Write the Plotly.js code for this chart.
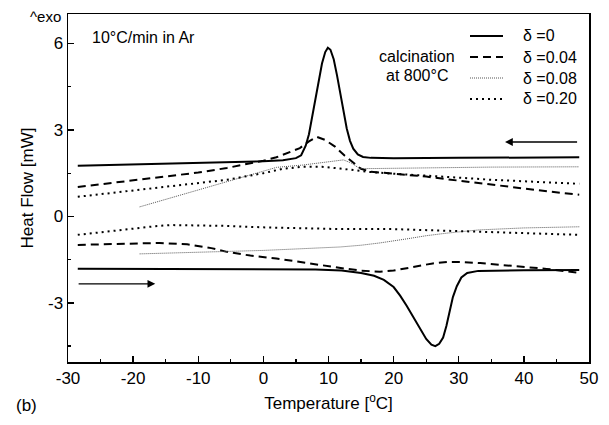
<!DOCTYPE html>
<html>
<head>
<meta charset="utf-8">
<script src="https://cdn.plot.ly/plotly-3.0.1.min.js"></script>
<style>html,body{margin:0;padding:0;background:#fff;}#chart{width:609px;height:425px;}</style>
</head>
<body>
<div id="chart"></div>
<script>
// ---- data ----
const s0CoolX = [-28.5,-20,-10,0,3,5,5.8,6.5,7,7.5,8,8.5,9,9.5,9.9,10.3,10.8,11.3,11.8,12.3,12.8,13.3,13.8,14.5,15.3,16.5,20,30,40,48.5];
const s0CoolY = [1.76,1.80,1.85,1.91,1.95,2.02,2.12,2.45,2.85,3.45,4.1,4.75,5.3,5.7,5.85,5.78,5.45,4.9,4.25,3.6,3.05,2.62,2.35,2.15,2.06,2.03,2.02,2.03,2.04,2.05];
const s0HeatX = [-28.5,-10,0,8,12,15,17,18.5,20,21,22,23,24,25,25.8,26.4,27,27.6,28.1,28.6,29.1,29.7,30.4,31.3,33,40,48.5];
const s0HeatY = [-1.82,-1.82,-1.82,-1.84,-1.88,-1.96,-2.06,-2.2,-2.45,-2.75,-3.1,-3.48,-3.88,-4.25,-4.45,-4.5,-4.42,-4.2,-3.8,-3.25,-2.8,-2.42,-2.12,-1.96,-1.89,-1.87,-1.86];
const s04CoolX = [-28.5,-20,-15.9,-10,-5.6,0,2,4,5.6,7,8.2,9.5,11,12.5,13.8,15,16.5,20,25,30,35,40,44,48.5];
const s04CoolY = [1.02,1.25,1.34,1.52,1.68,1.93,2.05,2.22,2.37,2.6,2.76,2.65,2.42,2.1,1.85,1.65,1.55,1.48,1.38,1.24,1.1,0.97,0.86,0.75];
const s04HeatX = [-28.5,-20,-15.9,-11.7,-8,-5.6,-2,2,6,9.8,12.8,15,17.9,20,23,26,28.2,30.5,33.3,38.3,43.5,48.5];
const s04HeatY = [-0.99,-0.94,-0.92,-0.97,-1.1,-1.23,-1.36,-1.46,-1.6,-1.73,-1.82,-1.88,-1.92,-1.88,-1.75,-1.63,-1.58,-1.58,-1.62,-1.72,-1.82,-1.96];
const s08CoolX = [-19,-10,-5,0,2,6,10,12.3,13.5,14.8,17,25,35,48.5];
const s08CoolY = [0.33,0.92,1.25,1.58,1.70,1.78,1.88,1.96,1.85,1.66,1.66,1.69,1.71,1.72];
const s08HeatX = [-19,-10,-5,0,5,11.8,15,17.9,22,25,28.2,33,40,48.5];
const s08HeatY = [-1.30,-1.25,-1.22,-1.18,-1.13,-1.06,-1.0,-0.92,-0.78,-0.67,-0.58,-0.47,-0.40,-0.36];
const s20CoolX = [-28.5,-20,-15.9,-10,-5.6,0,3,6,9,11.8,14,16.4,20,25,28.2,35,42,48.5];
const s20CoolY = [0.68,0.90,0.99,1.14,1.27,1.5,1.65,1.72,1.72,1.66,1.6,1.54,1.48,1.40,1.37,1.27,1.19,1.13];
const s20HeatX = [-28.5,-24,-20.9,-17,-14.3,-10,-5.6,0,5,11.8,20,28.2,35,42,48.5];
const s20HeatY = [-0.64,-0.52,-0.45,-0.35,-0.30,-0.31,-0.33,-0.38,-0.41,-0.44,-0.44,-0.50,-0.55,-0.60,-0.64];

const legendLabels = ["\u03b4 =0", "\u03b4 =0.04", "\u03b4 =0.08", "\u03b4 =0.20"];
const xTickVals = [-30,-20,-10,0,10,20,30,40,50];
const xTickText = ["-30","-20","-10","0","10","20","30","40","50"];
const yTickVals = [-3,0,3,6];
const yTickText = ["-3","0","3","6"];
// arrows: [tailX, headX, y]
const coolArrow = [48.4, 37.1, 2.58];
const heatArrow = [-28.6, -16.6, -2.34];

// ---- styles ----
const styles = [
  {color:'#000', width:2, dash:'solid'},
  {color:'#000', width:2, dash:'8px,5px'},
  {color:'#555', width:1, dash:'1px,1px'},
  {color:'#000', width:2, dash:'2px,4px'}
];
const series = [
  [s0CoolX,s0CoolY,s0HeatX,s0HeatY],
  [s04CoolX,s04CoolY,s04HeatX,s04HeatY],
  [s08CoolX,s08CoolY,s08HeatX,s08HeatY],
  [s20CoolX,s20CoolY,s20HeatX,s20HeatY]
];
const traces = [];
series.forEach((s,i)=>{
  traces.push({x:s[0],y:s[1],mode:'lines',line:styles[i],showlegend:false,hoverinfo:'skip'});
  traces.push({x:s[2],y:s[3],mode:'lines',line:styles[i],showlegend:false,hoverinfo:'skip'});
});

const L=68, R=20, T=14, B=63, W=609, H=425;
const pw=W-L-R, ph=H-T-B;
const px2x = p => (p-L)/pw;
const py2y = p => (H-B-p)/ph;
const font = {family:'"Liberation Sans", Arial, sans-serif', color:'#000'};

const legRowsY = [36,57,78,99];
const shapes = [];
const annotations = [];
legendLabels.forEach((lab,i)=>{
  shapes.push({type:'line',xref:'paper',yref:'paper',x0:px2x(470),x1:px2x(503),y0:py2y(legRowsY[i]),y1:py2y(legRowsY[i]),line:styles[i]});
  annotations.push({xref:'paper',yref:'paper',x:px2x(521),y:py2y(legRowsY[i]),xanchor:'left',yanchor:'middle',text:lab,showarrow:false,font:Object.assign({size:16},font)});
});
annotations.push({xref:'paper',yref:'paper',x:px2x(417),y:py2y(56),xanchor:'center',yanchor:'middle',text:'calcination',showarrow:false,font:Object.assign({size:16},font)});
annotations.push({xref:'paper',yref:'paper',x:px2x(417),y:py2y(76),xanchor:'center',yanchor:'middle',text:'at 800\u00b0C',showarrow:false,font:Object.assign({size:16},font)});
annotations.push({xref:'paper',yref:'paper',x:px2x(90),y:py2y(37),xanchor:'left',yanchor:'middle',text:'10\u00b0C/min in Ar',showarrow:false,font:Object.assign({size:16},font)});
annotations.push({xref:'paper',yref:'paper',x:px2x(63),y:py2y(16),xanchor:'right',yanchor:'middle',text:'^exo',showarrow:false,font:Object.assign({size:15},font)});
annotations.push({xref:'paper',yref:'paper',x:px2x(14),y:py2y(405),xanchor:'left',yanchor:'middle',text:'(b)',showarrow:false,font:Object.assign({size:17},font)});
annotations.push({xref:'x',yref:'y',axref:'x',ayref:'y',x:coolArrow[1],y:coolArrow[2],ax:coolArrow[0],ay:coolArrow[2],text:'',showarrow:true,arrowhead:2,arrowsize:1.2,arrowwidth:1.3,arrowcolor:'#000'});
annotations.push({xref:'x',yref:'y',axref:'x',ayref:'y',x:heatArrow[1],y:heatArrow[2],ax:heatArrow[0],ay:heatArrow[2],text:'',showarrow:true,arrowhead:2,arrowsize:1.2,arrowwidth:1.3,arrowcolor:'#000'});

const layout = {
  width:W, height:H,
  margin:{l:L,r:R,t:T,b:B,pad:0},
  paper_bgcolor:'#fff', plot_bgcolor:'#fff',
  font:Object.assign({size:17},font),
  showlegend:false,
  xaxis:{range:[-30,50],tickvals:xTickVals,ticktext:xTickText,ticks:'inside',ticklen:6,tickwidth:1.3,tickcolor:'#000',
    minor:{dtick:5,ticks:'inside',ticklen:3,tickwidth:1.3,tickcolor:'#000'},
    showline:true,linecolor:'#000',linewidth:1.5,mirror:true,showgrid:false,zeroline:false,
    tickfont:Object.assign({size:17},font),automargin:false,
    title:{text:'Temperature [<sup>o</sup>C]',font:Object.assign({size:17},font),standoff:10}},
  yaxis:{range:[-5.05,7.02],tickvals:yTickVals,ticktext:yTickText,ticks:'inside',ticklen:6,tickwidth:1.3,tickcolor:'#000',
    minor:{dtick:1.5,tick0:0,ticks:'inside',ticklen:3,tickwidth:1.3,tickcolor:'#000'},
    showline:true,linecolor:'#000',linewidth:1.5,mirror:true,showgrid:false,zeroline:false,
    tickfont:Object.assign({size:17},font),automargin:false,
    title:{text:'Heat Flow [mW]',font:Object.assign({size:17},font),standoff:10}},
  shapes:shapes,
  annotations:annotations
};
Plotly.newPlot('chart',traces,layout,{displayModeBar:false,staticPlot:true});
</script>
</body>
</html>
